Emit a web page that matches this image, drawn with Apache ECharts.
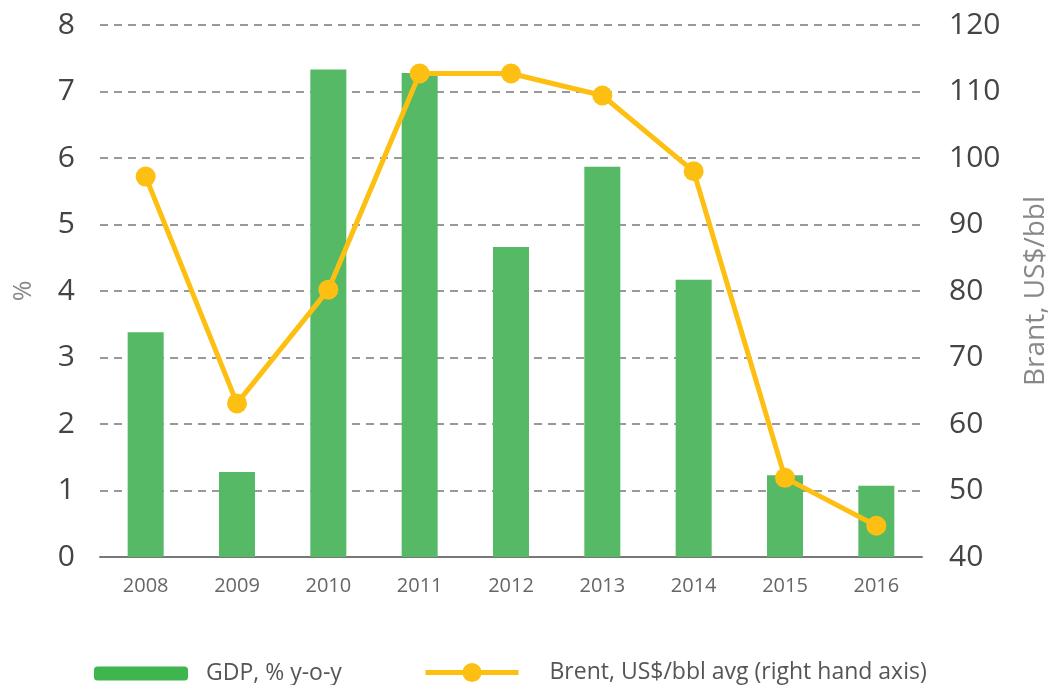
<!DOCTYPE html>
<html>
<head>
<meta charset="utf-8">
<script src="https://cdn.jsdelivr.net/npm/echarts@6/dist/echarts.min.js"></script>
<style>
  html, body { margin: 0; padding: 0; background: #fff; }
  #chart { width: 1058px; height: 685px; }
</style>
</head>
<body>
<div id="chart"></div>
<script>
// data
const years = ["2008", "2009", "2010", "2011", "2012", "2013", "2014", "2015", "2016"];
const gdp = [3.38, 1.28, 7.33, 7.28, 4.66, 5.87, 4.17, 1.23, 1.07];
const brent = [97.2, 63.1, 80.2, 112.7, 112.7, 109.4, 98, 51.9, 44.7];

const font = "'Open Sans', 'Noto Sans', sans-serif";

const chart = echarts.init(document.getElementById("chart"));

const option = {
  animation: false,
  textStyle: { fontFamily: font },
  grid: { left: 100, right: 132, top: 25, bottom: 128 },
  legend: [
    {
      left: 89,
      top: 657,
      data: ["GDP, % y-o-y"],
      itemWidth: 94,
      itemHeight: 14,
      itemStyle: { color: "#3fb54d" },
      textStyle: { fontSize: 23, color: "#555", padding: [0, 0, 0, 13], fontFamily: font },
    },
    {
      left: 418,
      top: 656,
      data: ["Brent, US$/bbl avg (right hand axis)"],
      itemWidth: 93,
      itemHeight: 24,
      lineStyle: { width: 5 },
      textStyle: { fontSize: 23, color: "#555", padding: [0, 0, 0, 26], fontFamily: font },
    },
  ],
  xAxis: {
    type: "category",
    data: years,
    axisLine: { lineStyle: { color: "#777", width: 2 } },
    axisTick: { length: 14, lineStyle: { color: "#777", width: 2 } },
    axisLabel: { fontSize: 20, color: "#666", margin: 19 },
  },
  yAxis: [
    {
      type: "value",
      min: 0,
      max: 8,
      interval: 1,
      name: "%",
      nameLocation: "middle",
      nameGap: 64,
      nameRotate: 90,
      nameTextStyle: { fontSize: 25, color: "#888" },
      axisLabel: { fontSize: 30, color: "#444", margin: 25 },
      splitLine: { lineStyle: { color: "#999", width: 2, type: [8, 6] } },
    },
    {
      type: "value",
      min: 40,
      max: 120,
      interval: 10,
      name: "Brant, US$/bbl",
      nameLocation: "middle",
      nameGap: 100,
      nameRotate: 90,
      nameTextStyle: { fontSize: 28, color: "#888" },
      axisLabel: { fontSize: 30, color: "#444", margin: 27 },
      splitLine: { show: false },
    },
  ],
  series: [
    {
      name: "GDP, % y-o-y",
      type: "bar",
      data: gdp,
      barWidth: 36,
      itemStyle: { color: "#55b966" },
    },
    {
      name: "Brent, US$/bbl avg (right hand axis)",
      type: "line",
      yAxisIndex: 1,
      data: brent,
      symbol: "circle",
      symbolSize: 20,
      lineStyle: { color: "#fdbf12", width: 5 },
      itemStyle: { color: "#fdbf12" },
    },
  ],
};

chart.setOption(option);
</script>
</body>
</html>
